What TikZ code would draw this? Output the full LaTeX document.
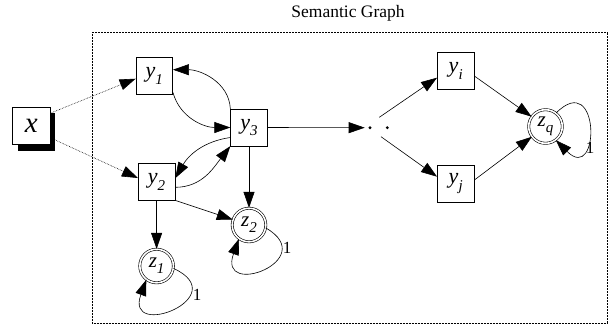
\documentclass[tikz,border=0pt]{standalone}
\usepackage{fontspec}
\setmainfont{Liberation Serif}[ItalicFont={Liberation Serif Italic}]
\usetikzlibrary{arrows.meta,shadows}
\newcommand\sbs[1]{\raisebox{-0.3em}{\fontsize{15}{15}\selectfont\itshape #1}}
\begin{document}
\begin{tikzpicture}[x=1pt,y=1pt,
  box/.style={draw, line width=0.6pt, minimum size=36.7pt, inner sep=0pt, fill=white,
    font=\fontsize{22}{22}\selectfont\itshape},
  term/.style={circle, draw, double, double distance=1.6pt, line width=0.6pt,
    minimum size=33.6pt, inner sep=0pt, fill=white, font=\fontsize{21}{21}\selectfont\itshape},
  arr/.style={-{Triangle[length=16pt,width=11pt]}, line width=0.6pt},
  dotarr/.style={arr, densely dotted},
  dotpt/.style={circle, fill, inner sep=0pt, minimum size=3.2pt},
  lab/.style={font=\fontsize{17}{17}\selectfont, inner sep=0pt},
]
\useasboundingbox (0,0) rectangle (609,-325);
% frame and title
\draw[densely dotted, line width=0.5pt] (92,-32) rectangle (607.5,-323);
\node[lab, font=\fontsize{17.5}{17.5}\selectfont] (title) at (348,-13) {Semantic Graph};
% nodes
\node[box, minimum size=37.5pt, font=\fontsize{29}{29}\selectfont\itshape,
  drop shadow={shadow xshift=5.5pt, shadow yshift=-6.5pt, fill=black, opacity=1}]
  (x) at (31.2,-125.7) {x};
\node[box] (y1) at (154.3,-75.7) {y\sbs{1}};
\node[box] (y2) at (156.6,-181.7) {y\sbs{2}};
\node[box] (y3) at (249,-127.5) {y\sbs{3}};
\node[box] (yi) at (455.7,-70.7) {y\sbs{i}};
\node[box] (yj) at (455.7,-183.7) {y\sbs{j}};
\node[term] (z1) at (156.6,-266) {z\sbs{1}};
\node[term] (z2) at (249,-225) {z\sbs{2}};
\node[term] (zq) at (545.5,-126.5) {z\sbs{q}};
\node[dotpt] (d1) at (370,-127.7) {};
\node[dotpt] (d2) at (387.3,-127.7) {};
\coordinate (c1) at (379.3,-117.3);
\coordinate (c2) at (381,-136.7);
% labels
\node[lab] (l1) at (197,-295) {1};
\node[lab] (l2) at (287,-248) {1};
\node[lab] (lq) at (590,-148) {1};
% edges
\draw[dotarr] ([yshift=12.5pt]x.east) -- ([yshift=-3pt]y1.west);
\draw[dotarr] ([yshift=-12pt]x.east) -- ([yshift=3.7pt]y2.west);
\draw[arr] ([yshift=2pt]y1.south east) to[out=-75,in=180] (y3.west);
\draw[arr] (y3.north west) to[out=93,in=0] ([yshift=6pt]y1.east);
\draw[arr] ([yshift=-10pt]y3.west) to[out=188,in=60] ([yshift=3.5pt]y2.east);
\draw[arr] ([yshift=-5.6pt]y2.east) to[out=0,in=232] (y3.south west);
\draw[arr] (y3.south) -- (z2.north);
\draw[arr] (y2.south) -- (z1.north);
\draw[arr] (y2.south east) -- (z2);
\draw[arr] (y3.east) -- ([xshift=-3.5pt]d1.west);
\draw[arr] (c1) -- ([yshift=-7pt]yi.west);
\draw[arr] (c2) -- ([yshift=7pt]yj.west);
\draw[arr] ([yshift=-5.3pt]yi.east) -- (zq);
\draw[arr] ([yshift=3.7pt]yj.east) -- (zq);
% self loops
\draw[arr] (z1.-8) .. controls +(-25:68pt) and +(-110:65pt) .. (z1.-127);
\draw[arr] (z2.-10) .. controls +(-30:64pt) and +(-110:64pt) .. (z2.-126);
\draw[arr] (zq.52) .. controls +(45:63pt) and +(-45:63pt) .. (zq.-53);
\end{tikzpicture}
\end{document}
